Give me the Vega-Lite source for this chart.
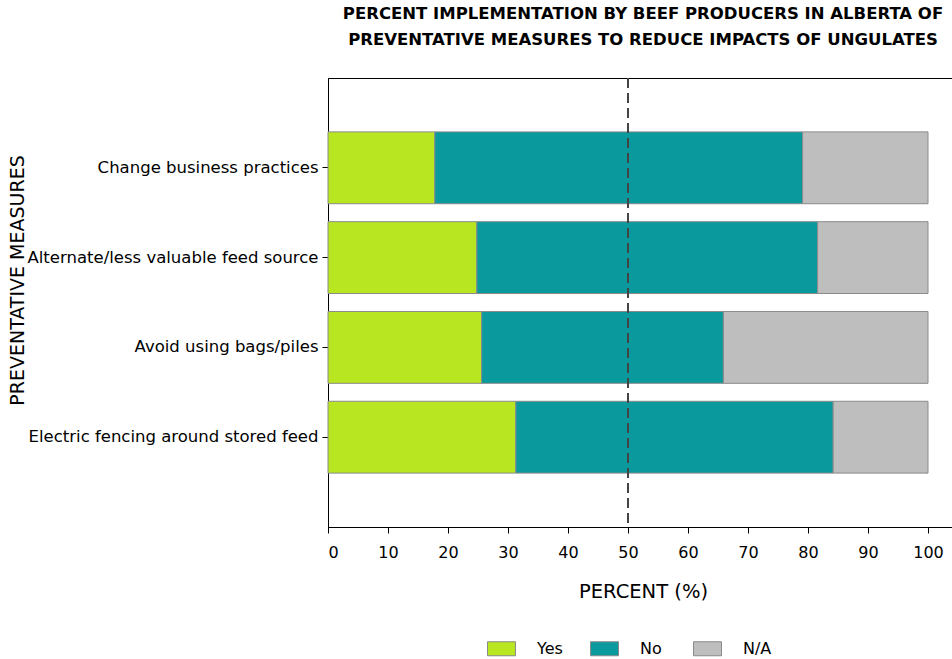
{
  "$schema": "https://vega.github.io/schema/vega-lite/v6.json",
  "autosize": "none",
  "width": 630,
  "height": 449,
  "padding": {"left": 328, "top": 78, "right": 0, "bottom": 132},
  "background": "white",
  "config": {
    "font": "DejaVu Sans",
    "view": {"stroke": "black", "strokeWidth": 1},
    "axis": {"labelColor": "black", "titleColor": "black", "domainColor": "black", "tickColor": "black", "grid": false}
  },
  "title": {
    "text": ["PERCENT IMPLEMENTATION BY BEEF PRODUCERS IN ALBERTA OF", "PREVENTATIVE MEASURES TO REDUCE IMPACTS OF UNGULATES"],
    "font": "DejaVu Sans",
    "fontSize": 16.5,
    "fontWeight": "bold",
    "lineHeight": 26,
    "color": "black",
    "anchor": "middle",
    "offset": 29
  },
  "data": {
    "values": [
      {"measure": "Change business practices", "response": "Yes", "k": 1, "percent": 17.8},
      {"measure": "Change business practices", "response": "No", "k": 2, "percent": 61.3},
      {"measure": "Change business practices", "response": "N/A", "k": 3, "percent": 20.9},
      {"measure": "Alternate/less valuable feed source", "response": "Yes", "k": 1, "percent": 24.8},
      {"measure": "Alternate/less valuable feed source", "response": "No", "k": 2, "percent": 56.8},
      {"measure": "Alternate/less valuable feed source", "response": "N/A", "k": 3, "percent": 18.4},
      {"measure": "Avoid using bags/piles", "response": "Yes", "k": 1, "percent": 25.6},
      {"measure": "Avoid using bags/piles", "response": "No", "k": 2, "percent": 40.3},
      {"measure": "Avoid using bags/piles", "response": "N/A", "k": 3, "percent": 34.1},
      {"measure": "Electric fencing around stored feed", "response": "Yes", "k": 1, "percent": 31.3},
      {"measure": "Electric fencing around stored feed", "response": "No", "k": 2, "percent": 52.9},
      {"measure": "Electric fencing around stored feed", "response": "N/A", "k": 3, "percent": 15.8}
    ]
  },
  "layer": [
    {
      "mark": {"type": "bar", "stroke": "#8a8a8a", "strokeWidth": 1},
      "encoding": {
        "y": {
          "field": "measure",
          "type": "nominal",
          "sort": ["Change business practices", "Alternate/less valuable feed source", "Avoid using bags/piles", "Electric fencing around stored feed"],
          "scale": {"paddingInner": 0.2, "paddingOuter": 0.6},
          "axis": {
            "title": "PREVENTATIVE MEASURES",
            "titleFontSize": 19,
            "titleFontWeight": "normal",
            "titleX": -301,
            "titleY": 202,
            "titleAngle": -90,
            "titleAlign": "center",
            "titleBaseline": "bottom",
            "labelFontSize": 16.5,
            "labelPadding": 4,
            "tickSize": 6,
            "labelLimit": 400
          }
        },
        "x": {
          "field": "percent",
          "type": "quantitative",
          "stack": "zero",
          "scale": {"domain": [0, 105], "nice": false},
          "axis": {
            "title": "PERCENT (%)",
            "values": [0, 10, 20, 30, 40, 50, 60, 70, 80, 90, 100],
            "titleFontSize": 19.5,
            "titleFontWeight": "normal",
            "titlePadding": 22,
            "labelFontSize": 16,
            "labelPadding": 11,
            "tickSize": 6
          }
        },
        "color": {
          "field": "response",
          "type": "nominal",
          "scale": {"domain": ["Yes", "No", "N/A"], "range": ["#b8e620", "#0a9a9e", "#bebebe"]},
          "legend": {
            "title": null,
            "orient": "none",
            "direction": "horizontal",
            "legendX": 159,
            "legendY": 556,
            "gridAlign": "all",
            "columnPadding": 22,
            "symbolType": "M-1,-0.5H1V0.5H-1Z",
            "symbolSize": 784,
            "symbolStrokeColor": "#8a8a8a",
            "symbolStrokeWidth": 1,
            "symbolOpacity": 1,
            "labelFontSize": 16,
            "labelColor": "black",
            "labelOffset": 21
          }
        },
        "order": {"field": "k", "type": "quantitative"}
      }
    },
    {
      "mark": {"type": "rule", "color": "#444444", "strokeWidth": 1, "strokeDash": [10, 5]},
      "encoding": {"x": {"datum": 50, "type": "quantitative"}}
    }
  ]
}
